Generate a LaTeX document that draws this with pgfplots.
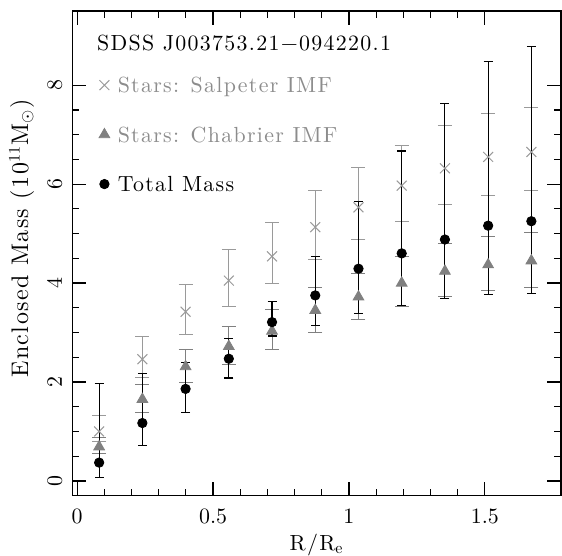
\documentclass[11pt,border=0pt]{standalone}
\usepackage{fontspec}
\setmainfont{lmroman10-regular.otf}[LetterSpace=6]
\usepackage{pgfplots}
\pgfplotsset{compat=1.18}
\usepackage{pgfplotstable}
\definecolor{salp}{HTML}{9A9A9A}
\definecolor{chab}{HTML}{808080}
\definecolor{salptext}{HTML}{8C8C8C}

\pgfplotstableread{
x     S    Sp   Sm   C    Cp   Cm   T    Tp   Tm
0.081 1.00 0.32 0.20 0.69 0.19 0.14 0.37 1.60 0.30
0.240 2.46 0.45 0.37 1.65 0.29 0.26 1.17 1.00 0.45
0.399 3.42 0.56 0.46 2.31 0.34 0.33 1.86 0.54 0.47
0.558 4.05 0.63 0.52 2.72 0.40 0.37 2.47 0.41 0.39
0.717 4.54 0.68 0.55 3.03 0.43 0.38 3.21 0.42 0.28
0.876 5.13 0.75 0.66 3.45 0.45 0.44 3.75 0.78 0.61
1.035 5.53 0.80 0.65 3.72 0.48 0.46 4.29 1.36 0.90
1.194 5.97 0.82 0.72 4.00 0.53 0.47 4.60 2.07 1.05
1.353 6.32 0.87 0.73 4.24 0.55 0.52 4.88 2.75 1.20
1.512 6.55 0.87 0.77 4.37 0.57 0.52 5.16 3.31 1.39
1.671 6.65 0.89 0.77 4.45 0.58 0.54 5.25 3.54 1.46
}\datatab

\begin{document}
\begin{tikzpicture}
\begin{axis}[name=ax, scale only axis, width=244.6pt, height=242.35pt,
  xmin=-0.018, xmax=1.78, ymin=-0.29, ymax=9.5,
  xtick={0,0.5,1,1.5}, minor x tick num=4,
  ytick={0,2,4,6,8}, minor y tick num=3,
  tick align=inside, tick pos=both,
  major tick length=6.8pt, minor tick length=3.3pt,
  tick style={black, line width=0.6pt},
  axis line style={line width=0.65pt},
  yticklabel style={rotate=90, anchor=south},
  yticklabel shift=1.3pt, xticklabel shift=3pt,
  xlabel={R/R\textsubscript{e}},
  ylabel={\fontsize{12}{14}\selectfont Enclosed Mass (10\textsuperscript{11}M$_\odot$)},
  xlabel style={at={(axis description cs:0.5,0)}, anchor=base, yshift=-27.5pt},
  ylabel style={at={(axis description cs:-0.09,0.53)}, anchor=base},
  legend style={draw=none, fill=none, inner sep=0pt, outer sep=0pt,
    at={(0.0549,0.8623)}, anchor=north west, row sep=17.25pt,
    nodes={inner sep=0pt, text height=7.5pt, text depth=0pt},
    /tikz/every odd column/.append style={column sep=4pt}},
  legend cell align=left,
  legend image code/.code={\draw[#1] plot coordinates {(0pt,0pt)};},
]
% error bars
\addplot[forget plot, draw=none, mark=none,
  error bars/.cd, y dir=both, y explicit, error mark=-,
  error bar style={draw=salp, line width=0.5pt},
  error mark options={rotate=90, draw=salp, line width=0.5pt, mark size=3.5pt}]
  table[x=x, y=S, y error plus=Sp, y error minus=Sm]{\datatab};
\addplot[forget plot, draw=none, mark=none,
  error bars/.cd, y dir=both, y explicit, error mark=-,
  error bar style={draw=chab, line width=0.5pt},
  error mark options={rotate=90, draw=chab, line width=0.5pt, mark size=3.5pt}]
  table[x=x, y=C, y error plus=Cp, y error minus=Cm]{\datatab};
\addplot[forget plot, draw=none, mark=none,
  error bars/.cd, y dir=both, y explicit, error mark=-,
  error bar style={draw=black, line width=0.55pt},
  error mark options={rotate=90, draw=black, line width=0.55pt, mark size=2.25pt}]
  table[x=x, y=T, y error plus=Tp, y error minus=Tm]{\datatab};
% markers
\addplot[salp, only marks, mark=x, mark size=3.5pt, line width=0.5pt]
  table[x=x, y=S]{\datatab};
\addlegendentry{\textcolor{salptext}{Stars: Salpeter IMF}}
\addplot[chab, only marks, mark=triangle*, mark size=3.1pt, mark options={fill=chab, draw=chab}]
  table[x=x, y=C]{\datatab};
\addlegendentry{\textcolor{salptext}{Stars: Chabrier IMF}}
\addplot[black, only marks, mark=*, mark size=2.35pt]
  table[x=x, y=T]{\datatab};
\addlegendentry{Total Mass}
\node[anchor=west, inner sep=0pt, text height=7.5pt, text depth=0pt]
  at (axis cs:0.072,8.85) {SDSS J003753.21−094220.1};
\end{axis}
\pgfresetboundingbox
\path[use as bounding box] ([xshift=-36.15pt,yshift=-30.15pt]ax.south west)
  rectangle ([xshift=0.5pt,yshift=5.5pt]ax.north east);
\end{tikzpicture}
\end{document}
